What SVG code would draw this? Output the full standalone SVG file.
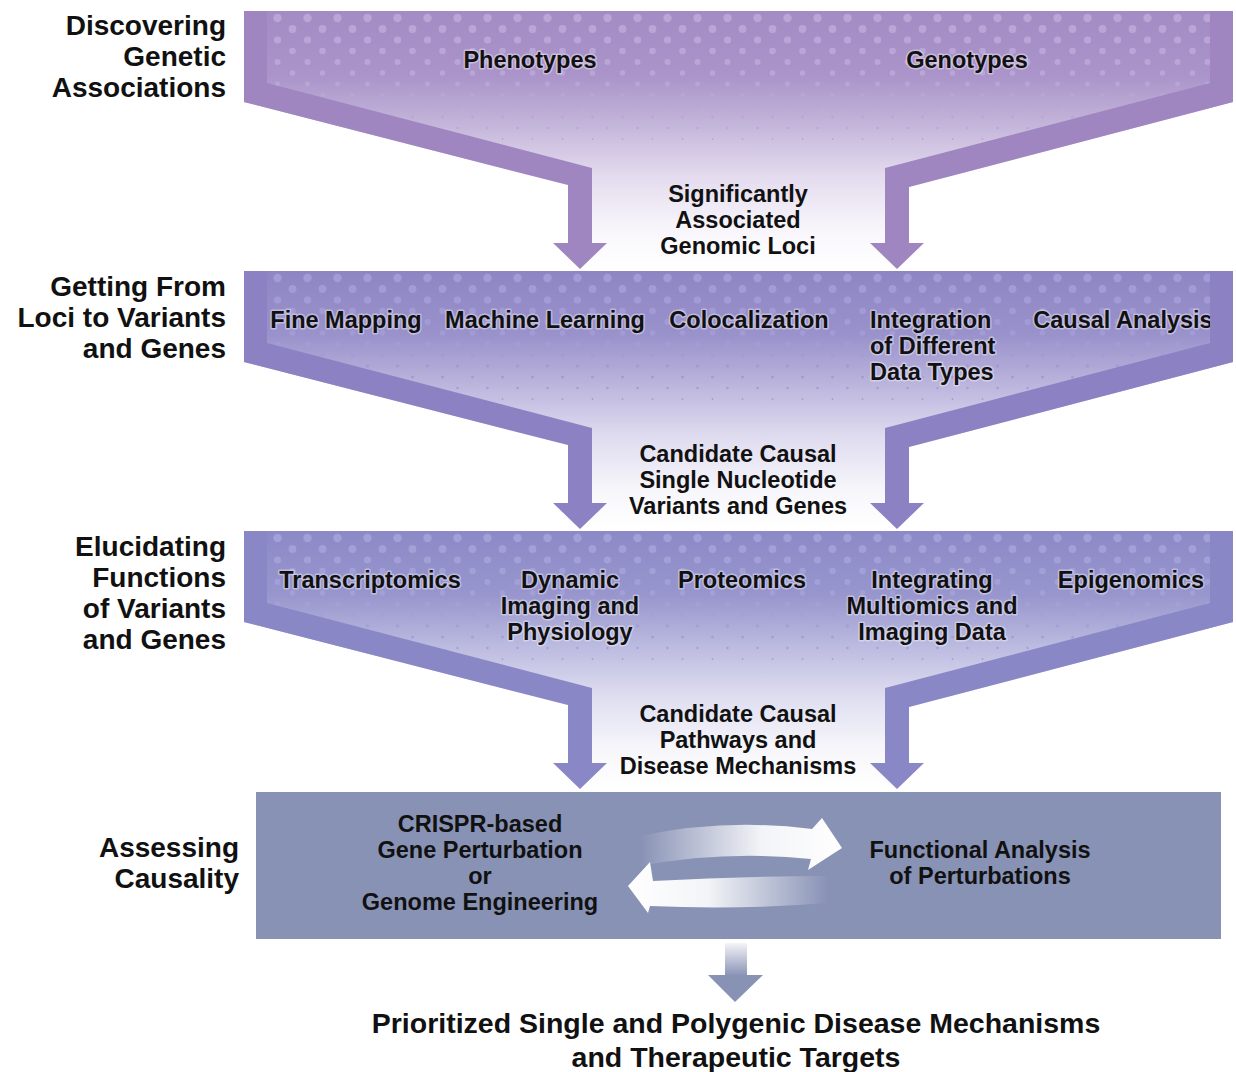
<svg xmlns="http://www.w3.org/2000/svg" width="1236" height="1072" viewBox="0 0 1236 1072">
<defs>
<style>
text{font-family:"Liberation Sans",Arial,Helvetica,sans-serif;font-weight:bold;fill:#111;}
.stage{font-size:28px;text-anchor:end;}
.in{font-size:23.5px;text-anchor:middle;stroke:#ffffff;stroke-opacity:0.4;stroke-width:3px;paint-order:stroke;stroke-linejoin:round;}
.inl{text-anchor:start;}
.mid{font-size:23.5px;text-anchor:middle;}
.box{font-size:23.5px;text-anchor:middle;}
.title{font-size:28.5px;text-anchor:middle;}
</style>
<linearGradient id="g1" x1="0" y1="0" x2="0" y2="1">
<stop offset="0" stop-color="#a38bc4"/>
<stop offset="0.25" stop-color="#aa94c9"/>
<stop offset="0.45" stop-color="#c5b7db"/>
<stop offset="0.65" stop-color="#e5ddef"/>
<stop offset="0.85" stop-color="#f8f6fb"/>
<stop offset="1" stop-color="#ffffff"/>
</linearGradient>
<linearGradient id="g2" x1="0" y1="0" x2="0" y2="1">
<stop offset="0" stop-color="#8e85c4"/>
<stop offset="0.25" stop-color="#9a92cb"/>
<stop offset="0.45" stop-color="#bdb7de"/>
<stop offset="0.65" stop-color="#e0ddf0"/>
<stop offset="0.85" stop-color="#f7f6fb"/>
<stop offset="1" stop-color="#ffffff"/>
</linearGradient>
<linearGradient id="g3" x1="0" y1="0" x2="0" y2="1">
<stop offset="0" stop-color="#8c89c7"/>
<stop offset="0.25" stop-color="#9896cd"/>
<stop offset="0.45" stop-color="#bcbbe0"/>
<stop offset="0.65" stop-color="#e0dff1"/>
<stop offset="0.85" stop-color="#f7f7fb"/>
<stop offset="1" stop-color="#ffffff"/>
</linearGradient>
<g id="dotrows">
<circle cx="7.5" cy="18" r="4.2"/>
<circle cx="22.5" cy="29" r="3.9"/>
<circle cx="7.5" cy="40" r="3.6"/>
<circle cx="22.5" cy="51" r="3.3"/>
<circle cx="7.5" cy="62" r="3.0"/>
<circle cx="22.5" cy="73" r="2.7"/>
<circle cx="7.5" cy="84" r="2.4"/>
<circle cx="22.5" cy="95" r="2.1"/>
<circle cx="7.5" cy="106" r="1.8"/>
<circle cx="22.5" cy="117" r="1.5"/>
<circle cx="7.5" cy="128" r="1.2"/>
<circle cx="22.5" cy="139" r="0.9"/>
</g>
<pattern id="p1" width="30" height="270" patternUnits="userSpaceOnUse"><use href="#dotrows" fill="#b9a5d6"/></pattern>
<pattern id="p2" width="30" height="270" patternUnits="userSpaceOnUse"><use href="#dotrows" fill="#a39bd5"/></pattern>
<pattern id="p3" width="30" height="270" patternUnits="userSpaceOnUse"><use href="#dotrows" fill="#a2a0d7"/></pattern>
<path id="region" d="M244,11 H1233 V102 L909,187 V269 H568 V185 L244,102 Z"/>
<path id="armL" d="M244,11 H267 V83 L592,168 V243 H607 L580,269 L553,243 H568 V185 L244,102 Z"/>
<path id="armR" d="M1233,11 H1210 V83 L885,168 V243 H870 L897,269 L924,243 H909 V187 L1233,102 Z"/>
<linearGradient id="cycR" x1="0" y1="0" x2="1" y2="0">
<stop offset="0" stop-color="#ffffff" stop-opacity="0"/>
<stop offset="0.6" stop-color="#ffffff" stop-opacity="0.9"/>
<stop offset="1" stop-color="#ffffff" stop-opacity="1"/>
</linearGradient>
<linearGradient id="cycL" x1="1" y1="0" x2="0" y2="0">
<stop offset="0" stop-color="#ffffff" stop-opacity="0"/>
<stop offset="0.6" stop-color="#ffffff" stop-opacity="0.9"/>
<stop offset="1" stop-color="#ffffff" stop-opacity="1"/>
</linearGradient>
<linearGradient id="down" x1="0" y1="0" x2="0" y2="1">
<stop offset="0" stop-color="#8892b5" stop-opacity="0.1"/>
<stop offset="1" stop-color="#8892b5"/>
</linearGradient>
</defs>
<rect width="1236" height="1072" fill="#ffffff"/>

<g id="stage1">
<use href="#region" fill="url(#g1)"/>
<use href="#region" fill="url(#p1)"/>
<text class="stage" x="226" y="35">Discovering</text>
<text class="stage" x="226" y="66">Genetic</text>
<text class="stage" x="226" y="97">Associations</text>
<text class="in" x="530" y="68">Phenotypes</text>
<text class="in" x="967" y="68">Genotypes</text>
</g>

<g id="stage2" transform="translate(0,260)">
<use href="#region" fill="url(#g2)"/>
<use href="#region" fill="url(#p2)"/>
<text class="stage" x="226" y="36">Getting From</text>
<text class="stage" x="226" y="67">Loci to Variants</text>
<text class="stage" x="226" y="98">and Genes</text>
<text class="in" x="346" y="68">Fine Mapping</text>
<text class="in" x="545" y="68">Machine Learning</text>
<text class="in" x="749" y="68">Colocalization</text>
<text class="in inl" x="870" y="68">Integration</text>
<text class="in inl" x="870" y="94">of Different</text>
<text class="in inl" x="870" y="120">Data Types</text>
<text class="in" x="1123" y="68">Causal Analysis</text>
</g>

<g id="stage3" transform="translate(0,520)">
<use href="#region" fill="url(#g3)"/>
<use href="#region" fill="url(#p3)"/>
<text class="stage" x="226" y="36">Elucidating</text>
<text class="stage" x="226" y="67">Functions</text>
<text class="stage" x="226" y="98">of Variants</text>
<text class="stage" x="226" y="129">and Genes</text>
<text class="in" x="370" y="68">Transcriptomics</text>
<text class="in" x="570" y="68">Dynamic</text>
<text class="in" x="570" y="94">Imaging and</text>
<text class="in" x="570" y="120">Physiology</text>
<text class="in" x="742" y="68">Proteomics</text>
<text class="in" x="932" y="68">Integrating</text>
<text class="in" x="932" y="94">Multiomics and</text>
<text class="in" x="932" y="120">Imaging Data</text>
<text class="in" x="1131" y="68">Epigenomics</text>
</g>

<g id="stage4">
<rect x="256" y="792" width="965" height="147" fill="#8892b5"/>
<text class="stage" x="239" y="857">Assessing</text>
<text class="stage" x="239" y="888">Causality</text>
<text class="box" x="480" y="832">CRISPR-based</text>
<text class="box" x="480" y="858">Gene Perturbation</text>
<text class="box" x="480" y="884">or</text>
<text class="box" x="480" y="910">Genome Engineering</text>
<text class="box" x="980" y="858">Functional Analysis</text>
<text class="box" x="980" y="884">of Perturbations</text>
</g>

<g id="connectors">
<use href="#armL" fill="#a086c1"/>
<use href="#armR" fill="#a086c1"/>
<g transform="translate(0,260)">
<use href="#armL" fill="#8c82c3"/>
<use href="#armR" fill="#8c82c3"/>
</g>
<g transform="translate(0,520)">
<use href="#armL" fill="#8a87c6"/>
<use href="#armR" fill="#8a87c6"/>
</g>
<path d="M640,836 Q725,818 812,829 L822,818 L842,848 L808,870 L811,859 Q725,850 640,866 Z" fill="url(#cycR)"/>
<path d="M828,876 Q740,876 653,881 L650,862 L628,886 L648,913 L650,906 Q740,910 828,903 Z" fill="url(#cycL)"/>
<rect x="725" y="943" width="22" height="33" fill="url(#down)"/>
<path d="M708,975 H763 L735,1002 Z" fill="#8892b5"/>
</g>

<g id="label-loci">
<text class="mid" x="738" y="202">Significantly</text>
<text class="mid" x="738" y="228">Associated</text>
<text class="mid" x="738" y="254">Genomic Loci</text>
</g>
<g id="label-variants">
<text class="mid" x="738" y="462">Candidate Causal</text>
<text class="mid" x="738" y="488">Single Nucleotide</text>
<text class="mid" x="738" y="514">Variants and Genes</text>
</g>
<g id="label-pathways">
<text class="mid" x="738" y="722">Candidate Causal</text>
<text class="mid" x="738" y="748">Pathways and</text>
<text class="mid" x="738" y="774">Disease Mechanisms</text>
</g>
<g id="result">
<text class="title" x="736" y="1033">Prioritized Single and Polygenic Disease Mechanisms</text>
<text class="title" x="736" y="1067">and Therapeutic Targets</text>
</g>
</svg>
